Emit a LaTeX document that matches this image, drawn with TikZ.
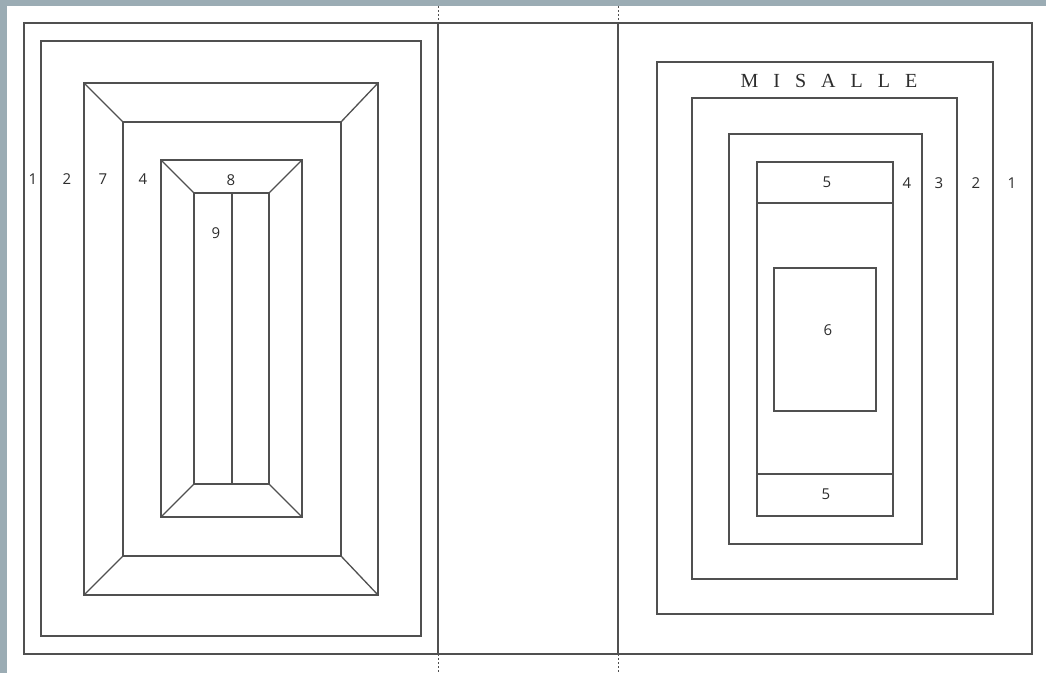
\documentclass[tikz,border=0pt]{standalone}
\usepackage{fontspec}
\setmainfont{Liberation Serif}
\newfontfamily\labelfont{Open Sans}
\definecolor{bgc}{RGB}{155,172,180}
\definecolor{ink}{RGB}{80,80,80}
\definecolor{txt}{RGB}{45,45,45}
\tikzset{
  x=1pt, y=-1pt,
  frame/.style={draw=ink, line width=1.3pt},
  fold/.style={draw=ink, line width=1pt, dash pattern=on 2pt off 2pt},
  num/.style={font=\labelfont\fontsize{15}{17}\selectfont, text=txt, inner sep=0pt},
  title/.style={font=\fontsize{20}{22}\selectfont, text=txt, inner sep=0pt}
}
\begin{document}
\begin{tikzpicture}
\useasboundingbox (0,0) rectangle (1046,673);
\fill[bgc] (0,0) rectangle (1046,673);
\fill[white] (7,6) rectangle (1046,673);

% outer cover frame and spine
\coordinate (spA) at (438,23);
\coordinate (spB) at (618,23);
\coordinate (spAb) at (438,654);
\coordinate (spBb) at (618,654);
\coordinate (spAt) at (438,6);
\coordinate (spBt) at (618,6);
\coordinate (spAe) at (438,673);
\coordinate (spBe) at (618,673);
\draw[frame] (24,23) rectangle (1032,654);
\draw[frame] (spA) -- (spAb);
\draw[frame] (spB) -- (spBb);
\draw[fold] (spAt) -- (spA);
\draw[fold] (spBt) -- (spB);
\draw[fold] (spAb) -- (spAe);
\draw[fold] (spBb) -- (spBe);

% ---------- left board ----------
\draw[frame] (41,41) rectangle (421,636);
% bevelled frame
\coordinate (o1) at (84,83);   \coordinate (o2) at (378,83);
\coordinate (o3) at (378,595); \coordinate (o4) at (84,595);
\coordinate (i1) at (123,122); \coordinate (i2) at (341,122);
\coordinate (i3) at (341,556); \coordinate (i4) at (123,556);
\draw[frame] (o1) -- (o2) -- (o3) -- (o4) -- cycle;
\draw[frame] (i1) -- (i2) -- (i3) -- (i4) -- cycle;
\draw[frame] (o1) -- (i1) (o2) -- (i2) (o3) -- (i3) (o4) -- (i4);
% small bevelled frame
\coordinate (p1) at (161,160); \coordinate (p2) at (302,160);
\coordinate (p3) at (302,517); \coordinate (p4) at (161,517);
\coordinate (q1) at (194,193); \coordinate (q2) at (269,193);
\coordinate (q3) at (269,484); \coordinate (q4) at (194,484);
\coordinate (mt) at (232,193); \coordinate (mb) at (232,484);
\draw[frame] (p1) -- (p2) -- (p3) -- (p4) -- cycle;
\draw[frame] (q1) -- (q2) -- (q3) -- (q4) -- cycle;
\draw[frame] (p1) -- (q1) (p2) -- (q2) (p3) -- (q3) (p4) -- (q4);
\draw[frame] (mt) -- (mb);

\node[num] (L1) at (33,179) {1};
\node[num] (L2) at (67,179) {2};
\node[num] (L7) at (103,179) {7};
\node[num] (L4) at (143,179) {4};
\node[num] (L8) at (231,180) {8};
\node[num] (L9) at (216,233) {9};

% ---------- right board ----------
\draw[frame] (657,62) rectangle (993,614);
\draw[frame] (692,98) rectangle (957,579);
\draw[frame] (729,134) rectangle (922,544);
\draw[frame] (757,162) rectangle (893,516);
\draw[frame] (757,203) -- (893,203);
\draw[frame] (757,474) -- (893,474);
\draw[frame] (774,268) rectangle (876,411);

\node[title, anchor=base] (T) at (829,87) {M\hspace{15pt}I\hspace{15pt}S\hspace{15pt}A\hspace{15pt}L\hspace{15pt}L\hspace{15pt}E};
\node[num] (R5a) at (827,182) {5};
\node[num] (R4) at (907,183) {4};
\node[num] (R3) at (939,183) {3};
\node[num] (R2) at (976,183) {2};
\node[num] (R1) at (1012,183) {1};
\node[num] (R6) at (828,330) {6};
\node[num] (R5b) at (826,494) {5};
\end{tikzpicture}
\end{document}
